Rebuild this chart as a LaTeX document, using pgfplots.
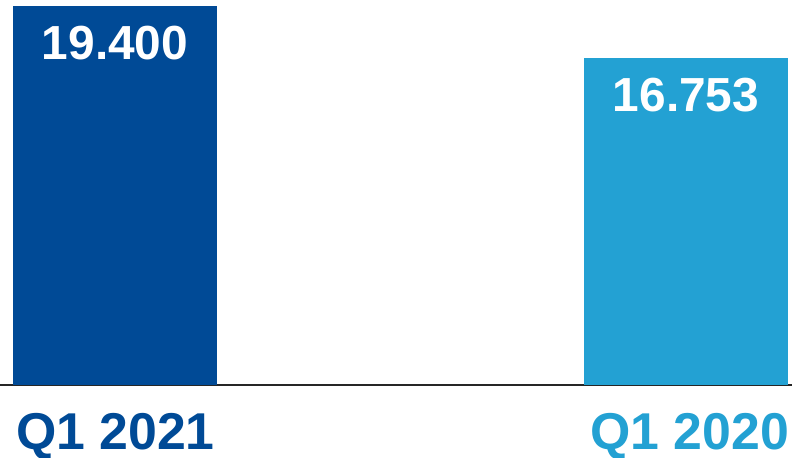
\documentclass[border=0pt]{standalone}
\usepackage{fontspec}
\setmainfont{Liberation Sans}
\usepackage{pgfplots}
\pgfplotsset{compat=1.18}
\definecolor{darkbar}{RGB}{0,74,150}
\definecolor{lightbar}{RGB}{35,161,211}

\begin{document}
\begin{tikzpicture}
\begin{axis}[
    scale only axis,
    width=792bp, height=385bp,
    xmin=0, xmax=792,
    ymin=0, ymax=19.707,
    axis x line*=bottom,
    axis y line=none,
    x axis line style={line width=1.3bp, black!85},
    xtick={115.5,689.5},
    xticklabels={\textcolor{darkbar}{Q1 2021}, \textcolor{lightbar}{Q1 2020}},
    major tick length=0pt,
    xticklabel style={font=\fontsize{52}{60}\selectfont\bfseries,
        anchor=base, inner sep=0pt, yshift=-64bp},
    ytick=\empty,
    ybar, bar width=204, bar shift=0pt,
    /pgf/number format/assume math mode=true,
    nodes near coords={\pgfmathprintnumber[fixed,fixed zerofill,precision=3]{\pgfplotspointmeta}},
    every node near coord/.append style={font=\fontsize{48}{56}\selectfont\bfseries,
        text=white, anchor=center, inner sep=0pt, yshift=-37bp},
]
\addplot[fill=darkbar, draw=none] coordinates {(115,19.400)};
\addplot[fill=lightbar, draw=none] coordinates {(686,16.753)};
\end{axis}
\pgfresetboundingbox
\path (0,-73bp) rectangle (792bp,385bp);
\end{tikzpicture}
\end{document}
